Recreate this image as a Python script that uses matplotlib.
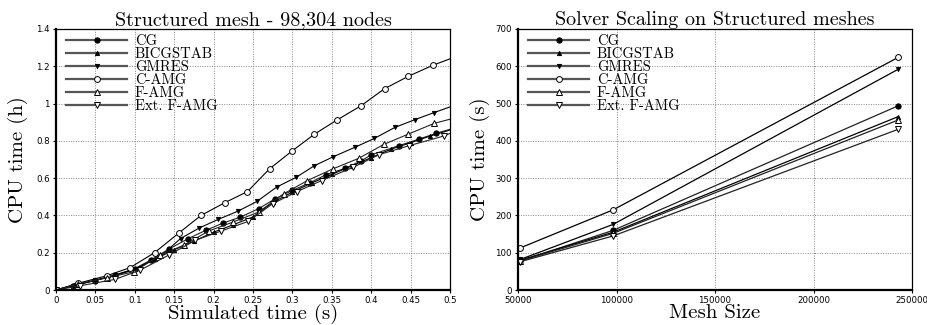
import matplotlib
matplotlib.use("Agg")
import matplotlib.pyplot as plt

plt.rcParams['font.family'] = ['cmr10', 'DejaVu Serif']
plt.rcParams['axes.formatter.use_mathtext'] = True

# left chart: CPU time (h) vs simulated time (s)
cg_t = [0, 0.022, 0.049, 0.075, 0.1, 0.12, 0.143, 0.168, 0.19, 0.212, 0.234, 0.257, 0.278, 0.3, 0.322,
        0.343, 0.367, 0.387, 0.4, 0.435, 0.461, 0.482, 0.5]
cg_v = [0, 0.023, 0.05, 0.08, 0.115, 0.16, 0.219, 0.276, 0.32, 0.359, 0.391, 0.436, 0.489, 0.534, 0.575,
        0.619, 0.653, 0.692, 0.725, 0.774, 0.81, 0.84, 0.862]
bicg_t = [0, 0.025, 0.05, 0.075, 0.1, 0.125, 0.15, 0.175, 0.2, 0.225, 0.25, 0.275, 0.3, 0.325, 0.35,
          0.375, 0.4, 0.425, 0.45, 0.475, 0.5]
bicg_v = [0, 0.027, 0.052, 0.078, 0.11, 0.165, 0.215, 0.262, 0.31, 0.35, 0.392, 0.47, 0.525, 0.575, 0.62,
          0.665, 0.71, 0.755, 0.79, 0.826, 0.858]
gmres_t = [0, 0.025, 0.05, 0.075, 0.1, 0.132, 0.158, 0.182, 0.206, 0.231, 0.255, 0.28, 0.305, 0.328,
           0.352, 0.379, 0.404, 0.43, 0.455, 0.48, 0.5]
gmres_v = [0, 0.028, 0.052, 0.08, 0.112, 0.178, 0.276, 0.333, 0.379, 0.423, 0.475, 0.552, 0.605, 0.667,
           0.715, 0.765, 0.813, 0.872, 0.913, 0.952, 0.982]
camg_t = [0, 0.028, 0.065, 0.094, 0.125, 0.156, 0.184, 0.214, 0.243, 0.271, 0.3, 0.328, 0.357, 0.387,
          0.417, 0.447, 0.478, 0.5]
camg_v = [0, 0.036, 0.077, 0.12, 0.2, 0.306, 0.4, 0.468, 0.528, 0.65, 0.747, 0.836, 0.913, 0.988,
          1.08, 1.146, 1.205, 1.24]
famg_t = [0, 0.028, 0.065, 0.099, 0.132, 0.162, 0.194, 0.225, 0.257, 0.289, 0.319, 0.351, 0.384, 0.416,
          0.447, 0.48, 0.5]
famg_v = [0, 0.032, 0.066, 0.098, 0.187, 0.24, 0.317, 0.365, 0.418, 0.516, 0.587, 0.649, 0.706, 0.781,
          0.836, 0.894, 0.916]
efamg_t = [0, 0.031, 0.075, 0.107, 0.143, 0.177, 0.21, 0.244, 0.275, 0.306, 0.337, 0.377, 0.41, 0.448,
           0.493, 0.5]
efamg_v = [0, 0.023, 0.057, 0.107, 0.187, 0.267, 0.317, 0.368, 0.463, 0.528, 0.587, 0.658, 0.726, 0.774,
           0.827, 0.84]

# right chart: CPU time (s) vs mesh size
mesh = [51200, 98304, 243000]
cg_s = [78, 160, 494]
bicg_s = [80, 155, 465]
gmres_s = [82, 176, 592]
camg_s = [113, 215, 624]
famg_s = [78, 152, 456]
efamg_s = [76, 145, 431]

names = ["CG", "BICGSTAB", "GMRES", "C-AMG", "F-AMG", "Ext. F-AMG"]
markers = [dict(marker='o', ms=3.8, mfc='black'),
           dict(marker='^', ms=3.0, mfc='black'),
           dict(marker='v', ms=3.0, mfc='black'),
           dict(marker='o', ms=4.2, mfc='white'),
           dict(marker='^', ms=4.2, mfc='white'),
           dict(marker='v', ms=4.2, mfc='white')]
lcols = ['#222222', 'black', 'black', 'black', '#222222', '#222222']

fig = plt.figure(figsize=(9.27, 3.25), dpi=100)
ax1 = fig.add_axes([56 / 927, 35 / 325, 394 / 927, 261 / 325])
ax2 = fig.add_axes([518 / 927, 35 / 325, 394 / 927, 261 / 325])

left_series = [(cg_t, cg_v), (bicg_t, bicg_v), (gmres_t, gmres_v),
               (camg_t, camg_v), (famg_t, famg_v), (efamg_t, efamg_v)]
for (t, v), name, mk, c in zip(left_series, names, markers, lcols):
    ax1.plot(t, v, color=c, lw=0.8, mec='black', mew=0.7, label=name,
             markevery=list(range(len(t) - 1)), **mk)

right_series = [cg_s, bicg_s, gmres_s, camg_s, famg_s, efamg_s]
for v, name, mk, c in zip(right_series, names, markers, lcols):
    ax2.plot(mesh, v, color=c, lw=0.9, mec='black', mew=0.7, label=name, **mk)


def style(ax):
    ax.grid(True, color='#888888', ls=(0, (1, 1.5)), lw=0.7)
    for s in ['left', 'bottom']:
        ax.spines[s].set_linewidth(1.6)
    for s in ['top', 'right']:
        ax.spines[s].set_linewidth(0.9)
    ax.tick_params(labelsize=6.2, length=2.5, width=0.8, pad=2)
    for lab in ax.get_xticklabels() + ax.get_yticklabels():
        lab.set_fontfamily('DejaVu Sans')
    leg = ax.legend(loc='upper left', frameon=False, fontsize=10.5, handlelength=4.2,
                    handletextpad=0.5, labelspacing=-0.05, borderaxespad=0.3,
                    bbox_to_anchor=(0.0, 1.02))
    for line in leg.get_lines():
        line.set_linewidth(1.6)
        line.set_color('#555555')


ax1.set_xlim(0, 0.5)
ax1.set_ylim(0, 1.4)
ax1.set_xticks([0, 0.05, 0.1, 0.15, 0.2, 0.25, 0.3, 0.35, 0.4, 0.45, 0.5])
ax1.set_xticklabels(["0", "0.05", "0.1", "0.15", "0.2", "0.25", "0.3", "0.35", "0.4", "0.45", "0.5"])
ax1.set_yticks([0, 0.2, 0.4, 0.6, 0.8, 1.0, 1.2, 1.4])
ax1.set_yticklabels(["0", "0.2", "0.4", "0.6", "0.8", "1", "1.2", "1.4"])
ax1.set_title("Structured mesh - 98,304 nodes", fontsize=14.5, pad=2)
ax1.set_xlabel("Simulated time (s)", fontsize=15, labelpad=-1)
ax1.set_ylabel("CPU time (h)", fontsize=15, labelpad=6)
style(ax1)

ax2.set_xlim(50000, 250000)
ax2.set_ylim(0, 700)
ax2.set_xticks([50000, 100000, 150000, 200000, 250000])
ax2.set_xticklabels(["50000", "100000", "150000", "200000", "250000"])
ax2.set_yticks([0, 100, 200, 300, 400, 500, 600, 700])
ax2.set_yticklabels(["0", "100", "200", "300", "400", "500", "600", "700"])
ax2.set_title("Solver Scaling on Structured meshes", fontsize=14.5, pad=2)
ax2.set_xlabel("Mesh Size", fontsize=15, labelpad=-1)
ax2.set_ylabel("CPU time (s)", fontsize=15, labelpad=4)
style(ax2)

fig.savefig("out.png", dpi=100)
